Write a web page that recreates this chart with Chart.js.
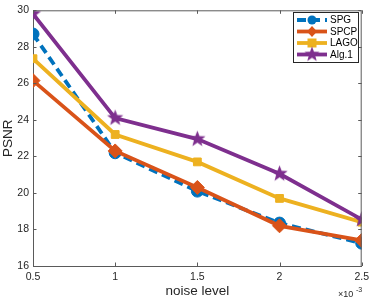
<!DOCTYPE html>
<html><head><meta charset="utf-8">
<script src="https://cdn.jsdelivr.net/npm/chart.js@4/dist/chart.umd.min.js"></script>
<style>html,body{margin:0;padding:0;background:#fff}#wrap{width:374px;height:299px}</style>
</head><body><div id="wrap"><canvas id="c" width="374" height="299"></canvas></div>
<script>
const noiseLevels = [0.5, 1, 1.5, 2, 2.5];
const spg  = [28.7, 22.2, 20.1, 18.35, 17.25];
const spcp = [26.15, 22.3, 20.3, 18.2, 17.4];
const lago = [27.35, 23.2, 21.7, 19.7, 18.4];
const alg1 = [29.8, 24.1, 22.95, 21.05, 18.55];
const xTicks = [0.5, 1, 1.5, 2, 2.5];
const yTicks = [16, 18, 20, 22, 24, 26, 28, 30];

const C = {spg:'#0072BD', spcp:'#D95319', lago:'#EDB120', alg:'#7E2F8E'};
const AX = '#5a5a5a';
const FONT = 'Liberation Sans, Arial, Helvetica, sans-serif';

function starImg(color, r){
  const s = Math.ceil(r*2+2);
  const cv = document.createElement('canvas'); cv.width = s; cv.height = s;
  const g = cv.getContext('2d');
  g.fillStyle = color; g.beginPath();
  const cx = s/2, cy = s/2, ri = r*0.42;
  for(let i=0;i<10;i++){
    const a = -Math.PI/2 + i*Math.PI/5;
    const rr = i%2===0 ? r : ri;
    const x = cx + rr*Math.cos(a), y = cy + rr*Math.sin(a);
    i===0 ? g.moveTo(x,y) : g.lineTo(x,y);
  }
  g.closePath(); g.fill();
  return cv;
}
const star = starImg(C.alg, 8.5);
const starSmall = starImg(C.alg, 8);

function ds(label, vals, color, style, extra){
  return Object.assign({
    label, data: noiseLevels.map((x,i)=>({x, y: vals[i]})),
    borderColor: color, backgroundColor: color, borderWidth: 3.8,
    pointStyle: style, pointRadius: 6, pointBorderWidth: 1,
    pointBackgroundColor: color, pointBorderColor: color, tension: 0
  }, extra||{});
}

const decor = {
  id:'decor',
  afterDraw(chart){
    const ctx = chart.ctx, a = chart.chartArea;
    const xs = chart.scales.x, ys = chart.scales.y;
    ctx.save();
    ctx.strokeStyle = AX; ctx.lineWidth = 1;
    ctx.beginPath();
    ctx.moveTo(a.left+0.5, a.top+0.5); ctx.lineTo(a.right-0.5, a.top+0.5); ctx.lineTo(a.right-0.5, a.bottom);
    xTicks.forEach(v=>{ const px = Math.round(xs.getPixelForValue(v))+0.5;
      ctx.moveTo(px, a.bottom); ctx.lineTo(px, a.bottom-3.5);
      ctx.moveTo(px, a.top); ctx.lineTo(px, a.top+3.5); });
    yTicks.forEach(v=>{ const py = Math.round(ys.getPixelForValue(v))+0.5;
      ctx.moveTo(a.left, py); ctx.lineTo(a.left+3.5, py);
      ctx.moveTo(a.right, py); ctx.lineTo(a.right-3.5, py); });
    ctx.stroke();
    ctx.fillStyle = '#262626';
    ctx.font = '9px '+FONT; ctx.textBaseline = 'alphabetic'; ctx.textAlign='left';
    ctx.fillText('×10', 338, 297);
    ctx.font = '7px '+FONT;
    ctx.fillText('-3', 356, 292);
    const lx = 293, ly = 12, lw = 65, lh = 50;
    ctx.fillStyle = '#fff'; ctx.fillRect(lx, ly, lw, lh);
    ctx.strokeStyle = '#262626'; ctx.lineWidth = 1;
    ctx.strokeRect(lx+0.5, ly+0.5, lw, lh);
    chart.data.datasets.forEach((d,i)=>{
      const y = ly + 8 + i*11.5;
      ctx.strokeStyle = d.borderColor; ctx.lineWidth = 3.8;
      ctx.setLineDash(d.borderDash || []);
      ctx.beginPath(); ctx.moveTo(lx+4, y); ctx.lineTo(lx+34, y); ctx.stroke();
      ctx.setLineDash([]);
      ctx.fillStyle = d.borderColor;
      const cx = lx+19;
      if(d.pointStyle==='circle'){ ctx.beginPath(); ctx.arc(cx,y,4.5,0,Math.PI*2); ctx.fill(); }
      else if(d.pointStyle==='rectRot'){ ctx.beginPath(); ctx.moveTo(cx,y-5.5); ctx.lineTo(cx+5,y); ctx.lineTo(cx,y+5.5); ctx.lineTo(cx-5,y); ctx.closePath(); ctx.fill(); }
      else if(d.pointStyle==='rect'){ ctx.fillRect(cx-4.5,y-4.5,9,9); }
      else { ctx.drawImage(starSmall, cx-starSmall.width/2, y-starSmall.height/2); }
      ctx.fillStyle = '#000'; ctx.font = '10px '+FONT; ctx.textBaseline='middle'; ctx.textAlign='left';
      ctx.fillText(d.label, lx+37, y+0.5);
    });
    ctx.restore();
  }
};

new Chart(document.getElementById('c'), {
  type:'line',
  data:{ datasets:[
    ds('SPG', spg, C.spg, 'circle', {borderDash:[9,5], order:4}),
    ds('SPCP', spcp, C.spcp, 'rectRot', {pointRadius:7, order:3}),
    ds('LAGO', lago, C.lago, 'rect', {pointRadius:5.5, order:2}),
    ds('Alg.1', alg1, C.alg, star, {order:1})
  ]},
  options:{
    responsive:false, animation:false, devicePixelRatio:1,
    layout:{padding:{top:3, right:8, left:0, bottom:0}},
    plugins:{legend:{display:false}, tooltip:{enabled:false}},
    scales:{
      x:{type:'linear', min:0.5, max:2.5,
        afterBuildTicks(s){ s.ticks = xTicks.map(v=>({value:v})); },
        afterFit(s){ s.height = 33; },
        grid:{display:false, drawTicks:false}, border:{display:true, color:AX, width:1},
        ticks:{padding:5, color:'#262626', font:{size:10.5, family:FONT}, maxRotation:0,
          callback:v=>String(v)},
        title:{display:true, text:'noise level', color:'#262626', font:{size:13.5, family:FONT}, padding:{top:0,bottom:0}}
      },
      y:{type:'linear', min:16, max:30,
        afterBuildTicks(s){ s.ticks = yTicks.map(v=>({value:v})); },
        afterFit(s){ s.width = 33; },
        grid:{display:false, drawTicks:false}, border:{display:true, color:AX, width:1},
        ticks:{padding:4, color:'#262626', font:{size:10.5, family:FONT}},
        title:{display:true, text:'PSNR', color:'#262626', font:{size:13.5, family:FONT}, padding:{top:0,bottom:0}}
      }
    }
  },
  plugins:[decor]
});
</script></body></html>
